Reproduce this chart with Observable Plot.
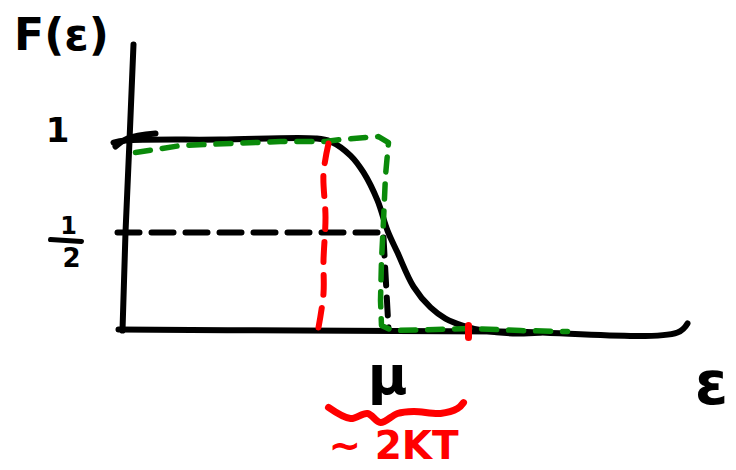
<!DOCTYPE html>
<html><head><meta charset="utf-8">
<script src="https://cdn.jsdelivr.net/npm/d3@7"></script>
<script src="https://cdn.jsdelivr.net/npm/@observablehq/plot@0.6"></script>
<style>body{margin:0;background:#fff}</style>
</head><body><div id="chart"></div>
<script>
// Energy E (mu = 0), occupation F
const fermiCurve = [[-27.2,0.989],[-26.0,1.0],[-16.5,1.005],[-7.0,1.011],[-5.5,0.995],[-3.5,0.92],[-2.2,0.83],[-0.8,0.681],[0.2,0.521],[1.2,0.404],[2.8,0.223],[4.5,0.112],[6.0,0.053],[7.7,0.016],[9.8,-0.011],[13.2,-0.027],[15.5,-0.021]];
const xAxisLine = [[-26.7,-0.005],[-8.5,-0.011],[11.5,-0.016],[29.2,-0.021],[30.2,0.027]];
const yAxisLine = [[-25.2,1.511],[-25.6,1.0],[-26.0,0.511],[-26.3,-0.011]];
const tickOne = [[-27.0,0.968],[-25.8,1.011],[-23.0,1.037]];
const halfLevel = [[-26.8,0.511],[0,0.511]];
const muDrop = [[-0.2,0.484],[0.3,0.0]];
const stepT0 = [[-25.0,0.936],[-20.5,0.973],[-10.5,0.995],[-6.0,0.995],[-4.5,1.005],[-0.7,1.021],[0.3,0.989],[0,0.814],[-0.2,0.574],[-0.4,0.362],[-0.5,0.149],[-0.4,0.016],[0.7,-0.011],[8.5,0],[13.5,-0.011],[18.2,-0.016]];
const widthLeft = [[-5.7,0.984],[-6.2,0.824],[-6.0,0.59],[-6.2,0.362],[-6.2,0.186],[-6.7,0.005]];
const widthRight = [[8.3,0.016],[8.3,-0.048]];
const brace = [[-5.7,-0.42],[-3.5,-0.479],[-1.8,-0.452],[-0.5,-0.5],[1.2,-0.452],[2.8,-0.441],[5.5,-0.452],[7.2,-0.426],[7.8,-0.394]];
const fracBar = [[-33.5,0.473],[-30.4,0.463]];
const blackLabels = [
  {E:-32.4, F:1.559, text:"F(ε)", size:44},
  {E:-32.8, F:1.048, text:"1", size:34},
  {E:-31.7, F:0.543, text:"1", size:24},
  {E:-31.4, F:0.372, text:"2", size:26},
  {E:0.2, F:-0.255, text:"μ", size:54},
  {E:32.6, F:-0.301, text:"ε", size:60}
];
const redLabels = [{E:0.8, F:-0.628, text:"~ 2KT", size:39}];

const common = {strokeLinecap:"round", strokeLinejoin:"round"};
const chart = Plot.plot({
  width:736, height:470, margin:0,
  x:{domain:[-38.5,35.1], axis:null},
  y:{domain:[-0.7553,1.7447], axis:null},
  style:{background:"#fff", fontFamily:"DejaVu Sans", fontWeight:"bold"},
  marks:[
    Plot.line(yAxisLine, {stroke:"#000", strokeWidth:6, ...common}),
    Plot.line(xAxisLine, {stroke:"#000", strokeWidth:6, curve:"catmull-rom", ...common}),
    Plot.line(tickOne, {stroke:"#000", strokeWidth:6, curve:"catmull-rom", ...common}),
    Plot.line(fermiCurve, {stroke:"#000", strokeWidth:6, curve:"catmull-rom", ...common}),
    Plot.line(halfLevel, {stroke:"#000", strokeWidth:6, strokeDasharray:"22,12", ...common}),
    Plot.line(muDrop, {stroke:"#000", strokeWidth:6, strokeDasharray:"18,12", ...common}),
    Plot.line(stepT0, {stroke:"#0a8a0a", strokeWidth:5.5, strokeDasharray:"15,12", ...common}),
    Plot.line(widthLeft, {stroke:"#ff0000", strokeWidth:6, strokeDasharray:"20,13", curve:"catmull-rom", ...common}),
    Plot.line(widthRight, {stroke:"#ff0000", strokeWidth:7, ...common}),
    Plot.line(brace, {stroke:"#ff0000", strokeWidth:7, curve:"catmull-rom", ...common}),
    Plot.line(fracBar, {stroke:"#000", strokeWidth:5, ...common}),
    Plot.text(blackLabels, {x:"E", y:"F", text:"text", fontSize:d=>d.size, fill:"#000", fontWeight:"bold"}),
    Plot.text(redLabels, {x:"E", y:"F", text:"text", fontSize:d=>d.size, fill:"#ff0000", fontWeight:"bold"})
  ]
});
document.getElementById("chart").appendChild(chart);
</script>
</body></html>
